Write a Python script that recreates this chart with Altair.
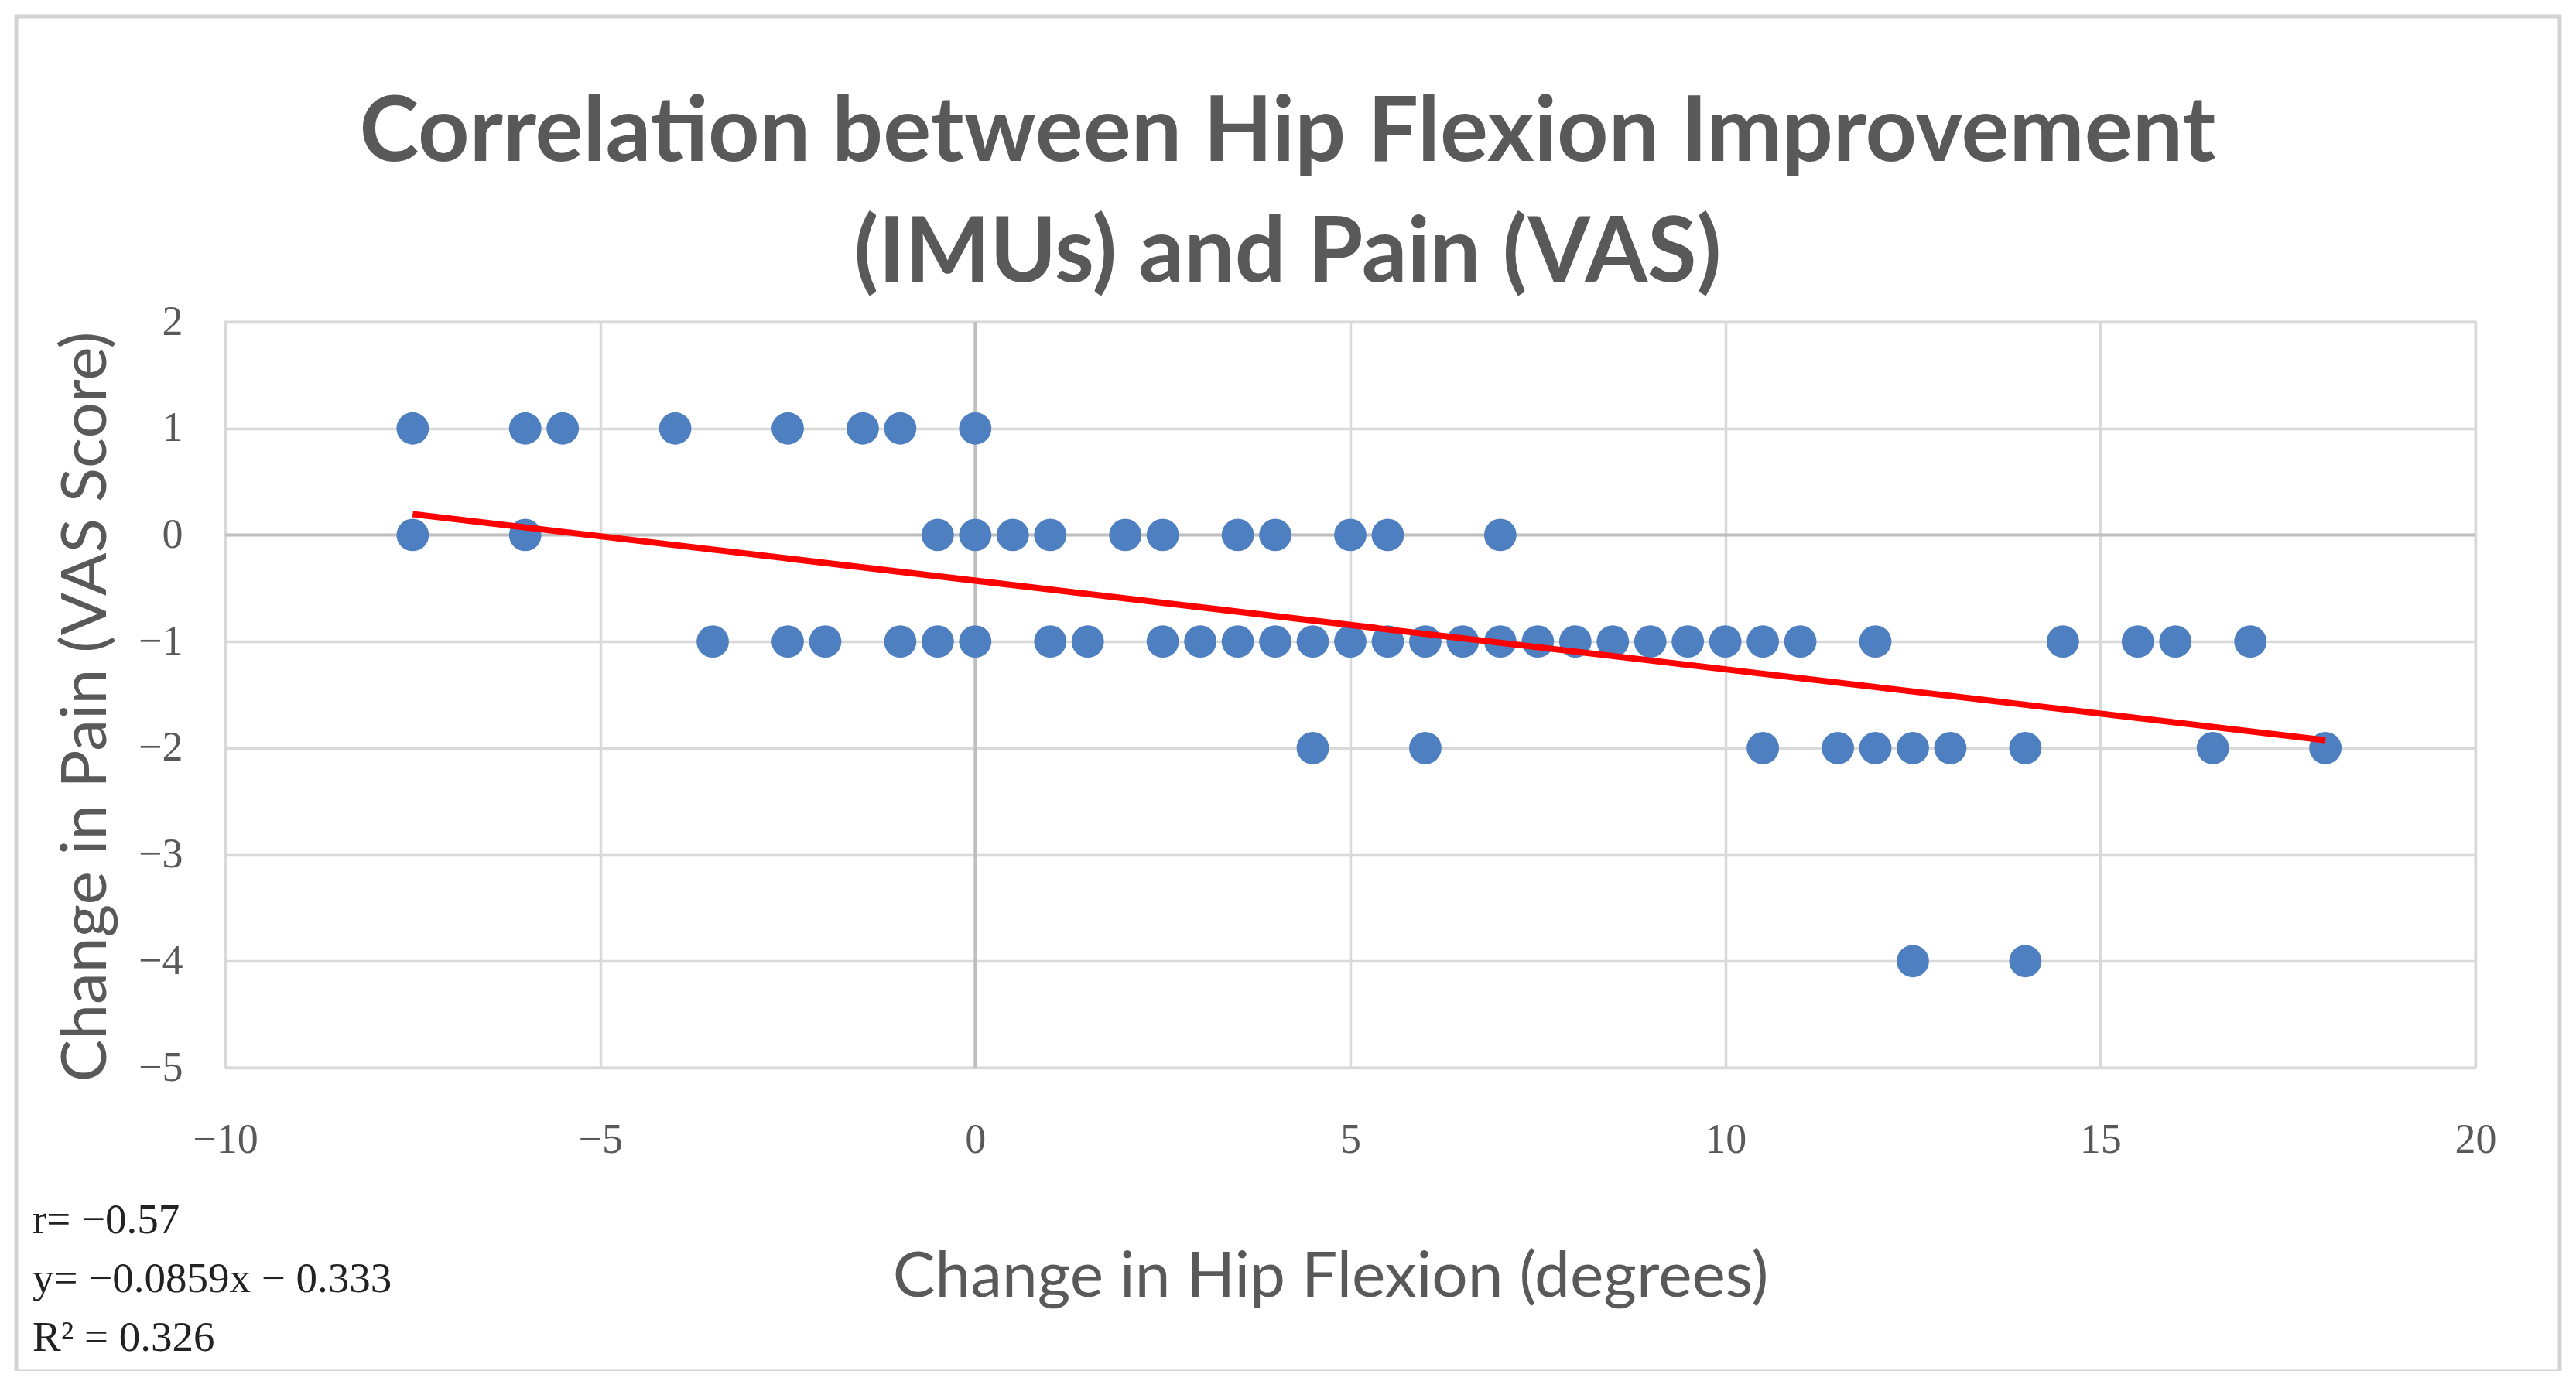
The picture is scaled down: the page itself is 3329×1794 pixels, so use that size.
import altair as alt
import pandas as pd

# change in hip flexion (deg) for each VAS change level
x_pain_plus1 = [-7.5, -6, -5.5, -4, -2.5, -1.5, -1, 0]
x_pain_0 = [-7.5, -6, -0.5, 0, 0.5, 1, 2, 2.5, 3.5, 4, 5, 5.5, 7]
x_pain_minus1 = [-3.5, -2.5, -2, -1, -0.5, 0, 1, 1.5, 2.5, 3, 3.5, 4, 4.5, 5, 5.5,
                 6, 6.5, 7, 7.5, 8, 8.5, 9, 9.5, 10, 10.5, 11, 12, 14.5, 15.5, 16, 17]
x_pain_minus2 = [4.5, 6, 10.5, 11.5, 12, 12.5, 13, 14, 16.5, 18]
x_pain_minus4 = [12.5, 14]

# trend line end points as drawn
trend_x = [-7.5, 18]
trend_y = [0.195, -1.926]

x_ticks = [-10, -5, 0, 5, 10, 15, 20]
y_ticks = [-5, -4, -3, -2, -1, 0, 1, 2]

title_text = "Correlation between Hip Flexion Improvement\n(IMUs) and Pain (VAS)"
stats_text = "r= \u22120.57\ny= \u22120.0859x \u2212 0.333\nR\u00b2 = 0.326"

rows = []
for level, xs in [(1, x_pain_plus1), (0, x_pain_0), (-1, x_pain_minus1),
                  (-2, x_pain_minus2), (-4, x_pain_minus4)]:
    for v in xs:
        rows.append({"hip": v, "pain": level})
pts = pd.DataFrame(rows)
trend = pd.DataFrame({"hip": trend_x, "pain": trend_y})
one = pd.DataFrame({"k": [0]})

W, H = 2908, 964
GRID = "#d9d9d9"
TXT = "#595959"

x_enc = alt.X(
    "hip:Q",
    scale=alt.Scale(domain=[-10, 20], nice=False, zero=False),
    axis=alt.Axis(values=x_ticks, format="d", title="Change in Hip Flexion (degrees)",
                  labelPadding=66, titlePadding=110, labelFlush=False, titleX=1428),
)
y_enc = alt.Y(
    "pain:Q",
    scale=alt.Scale(domain=[-5, 2], nice=False, zero=False),
    axis=alt.Axis(values=y_ticks, format="d", title="Change in Pain (VAS Score)",
                  labelPadding=55, titlePadding=25, labelFlush=False, titleY=497),
)

dots = alt.Chart(pts).mark_circle(size=1750, opacity=1, color="#4e7fc0").encode(
    x=x_enc, y=y_enc
)

zero_x = alt.Chart(one).mark_rule(color="#bfbfbf", strokeWidth=4).encode(x=alt.datum(0))
zero_y = alt.Chart(one).mark_rule(color="#bfbfbf", strokeWidth=4).encode(y=alt.datum(0))

line = alt.Chart(trend).mark_line(color="#ff0000", strokeWidth=8).encode(
    x="hip:Q", y="pain:Q"
)

stats = alt.Chart(one).mark_text(
    text=stats_text, lineBreak="\n", lineHeight=76, align="left", baseline="top",
    font="Liberation Serif", fontSize=55, color="#222222",
).encode(x=alt.value(-249), y=alt.value(1135))

heading = alt.Chart(one).mark_text(
    text=title_text, lineBreak="\n", lineHeight=156, align="center",
    baseline="alphabetic", font="Lato", fontSize=116, fontWeight="bold", color=TXT,
).encode(x=alt.value(1373), y=alt.value(-208))

frame = alt.Chart(one).mark_rect(
    fillOpacity=0, stroke="#d4d4d4", strokeWidth=5
).encode(x=alt.value(-270), x2=alt.value(3017), y=alt.value(-395), y2=alt.value(1357))

chart = (
    alt.layer(frame, zero_x, zero_y, dots, line, stats, heading)
    .properties(
        width=W,
        height=H,
        autosize=alt.AutoSizeParams(type="none"),
        padding={"left": 283, "top": 408, "right": 113, "bottom": 392},
    )
    .configure_view(stroke=GRID, strokeWidth=3)
    .configure_axis(
        grid=True, gridColor=GRID, gridWidth=3.5, domain=False, ticks=False,
        labelFont="Liberation Serif", labelFontSize=54, labelColor=TXT,
        titleFont="Lato", titleFontSize=82, titleFontWeight="normal", titleColor=TXT,
    )
)

chart.save("out.html", embed_options={"renderer": "svg", "actions": False})
